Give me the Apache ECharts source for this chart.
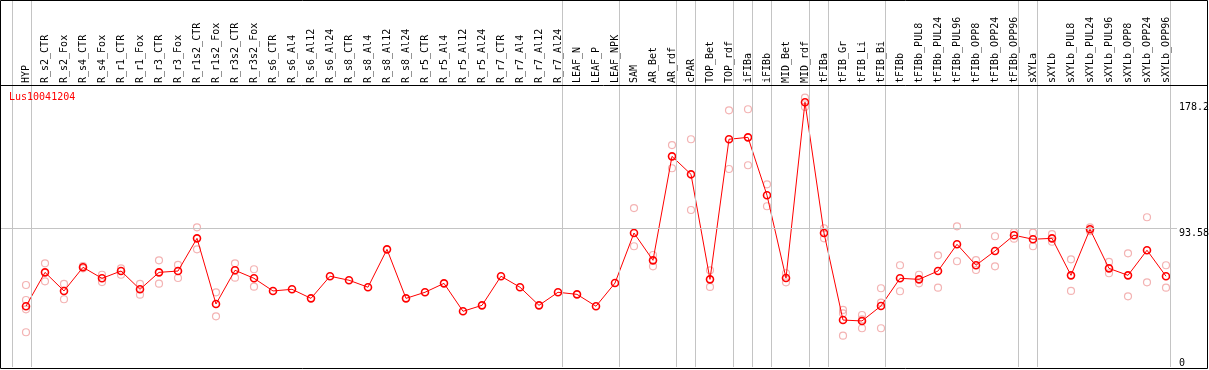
<!DOCTYPE html>
<html><head><meta charset="utf-8">
<script src="https://cdn.jsdelivr.net/npm/echarts@6/dist/echarts.min.js"></script>
<style>html,body{margin:0;padding:0;background:#fff}#c{width:1209px;height:370px}</style>
</head><body><div id="c"></div>
<script>
const geneName = 'Lus10041204';
const categories = ['HYP','R_s2_CTR','R_s2_Fox','R_s4_CTR','R_s4_Fox','R_r1_CTR','R_r1_Fox','R_r3_CTR','R_r3_Fox','R_r1s2_CTR','R_r1s2_Fox','R_r3s2_CTR','R_r3s2_Fox','R_s6_CTR','R_s6_Al4','R_s6_Al12','R_s6_Al24','R_s8_CTR','R_s8_Al4','R_s8_Al12','R_s8_Al24','R_r5_CTR','R_r5_Al4','R_r5_Al12','R_r5_Al24','R_r7_CTR','R_r7_Al4','R_r7_Al12','R_r7_Al24','LEAF_N','LEAF_P','LEAF_NPK','SAM','AR_Bet','AR_rdf','cPAR','TOP_Bet','TOP_rdf','iFIBa','iFIBb','MID_Bet','MID_rdf','tFIBa','tFIB_Gr','tFIB_Li','tFIB_Bi','tFIBb','tFIBb_PUL8','tFIBb_PUL24','tFIBb_PUL96','tFIBb_OPP8','tFIBb_OPP24','tFIBb_OPP96','sXYLa','sXYLb','sXYLb_PUL8','sXYLb_PUL24','sXYLb_PUL96','sXYLb_OPP8','sXYLb_OPP24','sXYLb_OPP96'];
const meanValues = [40.9,63.7,51.2,67.1,59.7,64.6,52.3,63.7,64.6,86.6,
  42.4,65.1,59.7,51.2,52.3,46.2,61.1,58.4,53.7,79.2,
  46.2,50.3,56.3,37.5,41.5,61.1,53.7,41.5,50.3,48.9,
  40.9,56.5,90.2,71.8,141.8,129.7,59.0,153.3,154.6,115.6,
  59.9,178.2,90.2,31.6,31.0,41.1,59.7,59.0,64.6,82.6,
  68.5,78.1,88.7,86.0,86.6,61.7,92.7,66.4,61.7,78.6,61.1];
const replicateValues = [
  [55.2,45.1,38.8,23.4],[69.8,57.7],[55.9,45.6],[68.0,66.4],[62.1,57.2],
  [66.4,62.1],[55.9,48.7],[71.8,56.1],[68.7,59.9],[94.0,79.2],
  [50.3,34.1],[69.8,60.1],[65.8,54.1],[],[],
  [],[],[],[],[],
  [],[],[],[],[],
  [],[],[],[],[],
  [],[],[107.0,81.3],[75.4,67.8],[149.4,133.8],
  [153.3,105.7],[65.1,53.9],[172.8,133.3],[173.5,135.8],[123.0,108.2],
  [63.1,57.0],[181.3,175.1],[93.4,86.6],[38.4,36.1,21.1],[35.0,26.1,32.0],
  [53.0,43.3,26.1],[68.5,51.0],[62.1,56.3],[75.2,53.4],[94.7,71.2],
  [72.0,65.3],[88.0,67.8],[90.7,86.4],[90.4,81.3],[89.5,84.3],
  [72.5,51.2],[94.0,91.4],[70.7,63.1],[76.5,47.6],[100.8,57.0],
  [68.5,53.4]];
const groupEnds = [-1,0,28,31,34,35,37,38,39,41,42,45,52,53,60];
const yTickValues = [0, 93.58, 178.2];
const refValue = 93.58;

const FONT = 'DejaVu Sans Mono';
const meanData = meanValues.map((v, i) => [i, v]);
const repData = [];
replicateValues.forEach((arr, i) => arr.forEach(v => repData.push([i, v])));

const chart = echarts.init(document.getElementById('c'), null, {renderer: 'canvas'});
chart.setOption({
  animation: false,
  backgroundColor: '#fff',
  title: {text: geneName, left: 9, top: 92, padding: 0,
    textStyle: {color: '#ff0000', fontSize: 10, fontFamily: FONT, fontWeight: 'normal'}},
  grid: {left: 1, right: 32, top: 0, bottom: 3, outerBoundsMode: 'none', containLabel: false},
  xAxis: {
    type: 'value', position: 'top', offset: -85,
    min: -1.3158, max: 60.579,
    axisLine: {show: false}, axisTick: {show: false}, splitLine: {show: false},
    axisLabel: {
      customValues: categories.map((c, i) => i),
      formatter: v => categories[Math.round(v)] || '',
      rotate: 90, margin: 2, color: '#000', fontSize: 10, fontFamily: FONT
    }
  },
  yAxis: {
    type: 'value', position: 'right', min: 0, max: 247.05,
    axisLine: {show: false}, axisTick: {show: false}, splitLine: {show: false},
    axisLabel: {
      customValues: yTickValues,
      formatter: v => v === 0 ? '{u|0}' : '{d|' + v + '}',
      margin: 2, align: 'left', verticalAlign: 'middle', color: '#000',
      fontSize: 10, fontFamily: FONT,
      rich: {
        u: {padding: [0, 0, 8, 0], fontSize: 10, fontFamily: FONT, color: '#000'},
        d: {padding: [10, 0, 0, 0], fontSize: 10, fontFamily: FONT, color: '#000'}
      }
    }
  },
  series: [
    {
      type: 'scatter', data: repData, z: 2,
      symbol: 'circle', symbolSize: 7,
      itemStyle: {color: 'rgba(0,0,0,0)', borderColor: '#f0a0a0', borderWidth: 1.2},
      silent: true,
      markLine: {
        silent: true, symbol: 'none', label: {show: false},
        lineStyle: {color: '#c4c4c4', width: 1, type: 'solid'},
        data: groupEnds.map(g => ({xAxis: g + 0.25})).concat([{yAxis: refValue}])
      }
    },
    {
      type: 'line', data: meanData, z: 3,
      symbol: 'circle', symbolSize: 7, showAllSymbol: true,
      itemStyle: {color: 'rgba(0,0,0,0)', borderColor: '#ff0000', borderWidth: 1.6},
      lineStyle: {color: '#ff0000', width: 1}
    }
  ],
  graphic: [
    {type: 'rect', z: 100, silent: true,
      shape: {x: 0.5, y: 0.5, width: 1207, height: 368},
      style: {fill: null, stroke: '#000', lineWidth: 1}},
    {type: 'line', z: 100, silent: true,
      shape: {x1: 0, y1: 85.5, x2: 1207, y2: 85.5},
      style: {stroke: '#000', lineWidth: 1}}
  ]
});
</script></body></html>
